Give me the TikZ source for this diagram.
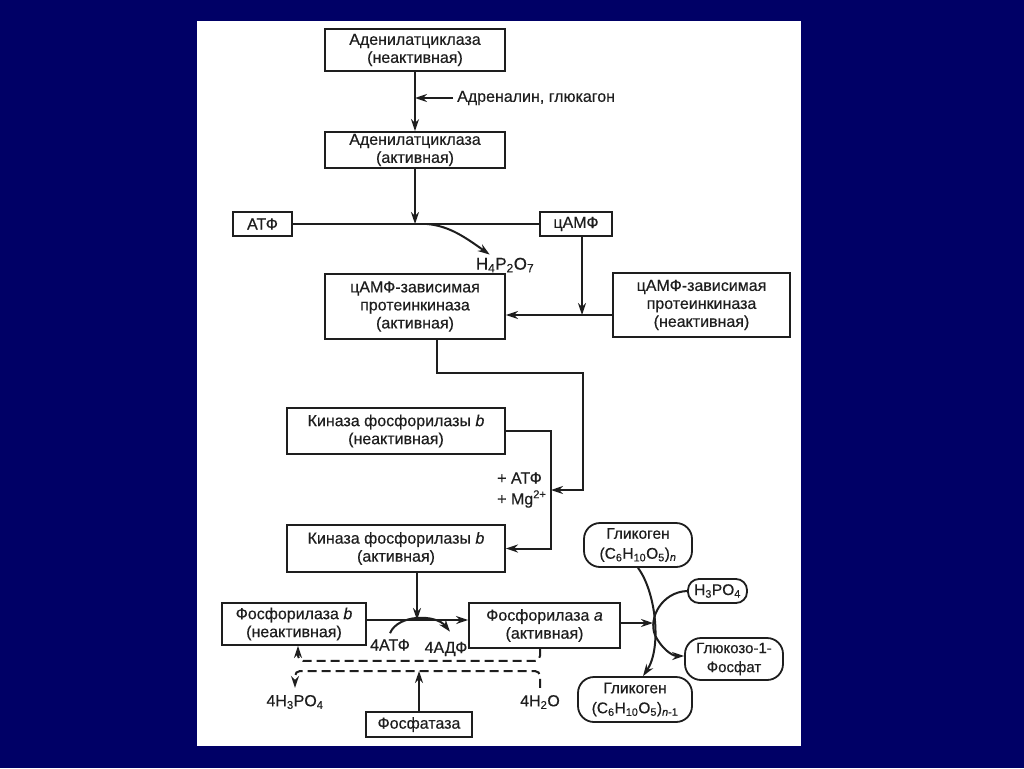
\documentclass[tikz,border=0pt]{standalone}
\usepackage{fontspec}
\setmainfont{Liberation Sans}[FakeBold=0.4]
\usetikzlibrary{arrows.meta}
\definecolor{slidebg}{RGB}{0,0,102}
\definecolor{ink}{RGB}{30,30,30}
\tikzset{
    enzyme/.style = {draw=ink, line width=1.8pt, align=center, inner sep=0pt, text=ink, font=\fontsize{16}{18}\selectfont},
    pill/.style = {enzyme, rounded corners=16pt, font=\fontsize{15.5}{20}\selectfont},
    chem/.style = {inner sep=0pt, text=ink, font=\fontsize{16}{18}\selectfont},
    link/.style = {draw=ink, line width=2pt},
    flow/.style = {link, -{Stealth[length=12pt,width=8pt]}},
    dashflow/.style = {flow, dash pattern=on 9pt off 5pt, rounded corners=5pt},
}

\begin{document}
\begin{tikzpicture}[x=1pt, y=-1pt]
	\fill[slidebg] (0,0) rectangle (1024,768);
	\fill[white] (197,21) rectangle (801,746);
	\useasboundingbox (0,0) rectangle (1024,768);

	% adenylate cyclase
	\node[enzyme, minimum width=180pt, minimum height=42pt] (ACin) at (415,50) {Аденилатциклаза\\(неактивная)};
	\node[enzyme, minimum width=180pt, minimum height=36pt] (ACact) at (415,150) {Аденилатциклаза\\(активная)};
	\node[chem, anchor=west] (Hor) at (457,98) {Адреналин, глюкагон};
	\node[enzyme, minimum width=59pt, minimum height=24pt] (ATP) at (262.5,224) {АТФ};
	\node[enzyme, minimum width=72pt, minimum height=24pt] (cAMP) at (576,224) {цАМФ};
	\coordinate (j1) at (415,224);
	\node[chem, font=\fontsize{17}{18}\selectfont] (PPi) at (505,265) {H\textsubscript{4}P\textsubscript{2}O\textsubscript{7}};

	% protein kinase
	\node[enzyme, minimum width=180pt, minimum height=65pt] (PKact) at (415,306.5) {цАМФ-зависимая\\протеинкиназа\\(активная)};
	\node[enzyme, minimum width=177pt, minimum height=64pt] (PKin) at (701.5,305) {цАМФ-зависимая\\протеинкиназа\\(неактивная)};
	\coordinate (j2) at (582,315);

	% phosphorylase kinase
	\node[enzyme, minimum width=218pt, minimum height=46pt] (KinIn) at (396,431) {Киназа фосфорилазы \textit{b}\\(неактивная)};
	\node[chem, anchor=west] (ATPMg) at (497,478) {+ АТФ};
	\node[chem, anchor=west] (Mg) at (497,499) {+ Mg\textsuperscript{2+}};
	\node[enzyme, minimum width=218pt, minimum height=47pt] (KinAct) at (396,548.5) {Киназа фосфорилазы \textit{b}\\(активная)};
	\coordinate (k1) at (583,373);
	\coordinate (j3) at (551,490);

	% phosphorylase
	\node[enzyme, minimum width=144pt, minimum height=42pt] (PhB) at (294,624) {Фосфорилаза \textit{b}\\(неактивная)};
	\node[enzyme, minimum width=151pt, minimum height=45pt] (PhA) at (544.5,625.5) {Фосфорилаза \textit{a}\\(активная)};
	\coordinate (j4) at (417,620);
	\node[chem] (nATP) at (390,645) {4АТФ};
	\node[chem] (nADP) at (446,649) {4АДФ};
	\node[chem] (nPi) at (295,702) {4H\textsubscript{3}PO\textsubscript{4}};
	\node[chem] (nW) at (540,702) {4H\textsubscript{2}O};
	\node[enzyme, minimum width=106pt, minimum height=25pt] (Pase) at (419,724.5) {Фосфатаза};
	\coordinate (d2) at (419,671);

	% glycogen
	\node[pill, minimum width=108pt, minimum height=44pt] (GlyN) at (638,545) {Гликоген\\(C\textsubscript{6}H\textsubscript{10}O\textsubscript{5})\textsubscript{\textit{n}}};
	\node[pill, minimum width=59pt, minimum height=24pt, rounded corners=11pt] (HPO) at (717.5,591) {H\textsubscript{3}PO\textsubscript{4}};
	\node[pill, minimum width=98pt, minimum height=42pt, font=\fontsize{15}{19}\selectfont] (G1P) at (734,659) {Глюкозо-1-\\Фосфат};
	\node[pill, minimum width=114pt, minimum height=45pt] (GlyN1) at (635,699.5) {Гликоген\\(C\textsubscript{6}H\textsubscript{10}O\textsubscript{5})\textsubscript{\textit{n}-1}};
	\coordinate (j5) at (653,623);

	\draw[flow] (ACin) -- (ACact);
	\draw[flow, shorten <=4pt] (Hor.west) -- (ACin.south |- Hor.west);
	\draw[flow] (ACact) -- (j1);
	\draw[link] (ATP.east) -- (cAMP.west);
	\draw[flow] ([xshift=12pt]j1) .. controls (450,226) and (466,238) .. ([xshift=14pt,yshift=3pt]PPi.north west);
	\draw[flow] (cAMP.south -| j2) -- (j2);
	\draw[flow] (PKin.west |- j2) -- (PKact.east |- j2);
	\draw[flow] ([xshift=22pt]PKact.south) |- (k1) |- (j3);
	\draw[flow] (KinIn.east) -| (j3) |- (KinAct.east);
	\draw[flow] (KinAct.south -| j4) -- (j4);
	\draw[flow] (PhB.east |- j4) -- (PhA.west |- j4);
	\draw[flow] ([yshift=6pt]nATP.north) .. controls (398,614) and (436,614) .. ([xshift=4pt,yshift=10pt]nADP.north);
	\draw[dashflow] (PhA.south -| nW) -- ++(0,12) -| ([xshift=3pt]PhB.south -| nPi);
	\draw[dashflow, shorten <=7pt, shorten >=7pt] (nW.north) |- (d2) -| (nPi.north);
	\draw[flow] (Pase) -- (d2);
	\draw[flow] (PhA.east |- j5) -- (j5);
	\draw[flow] (GlyN.south) .. controls (656,592) and (662,648) .. ([xshift=8pt]GlyN1.north);
	\draw[flow] (HPO.west) .. controls (662,592) and (648,618) .. (655,635) .. controls (661,648) and (672,656) .. ([yshift=3pt]G1P.west);
\end{tikzpicture}
\end{document}
